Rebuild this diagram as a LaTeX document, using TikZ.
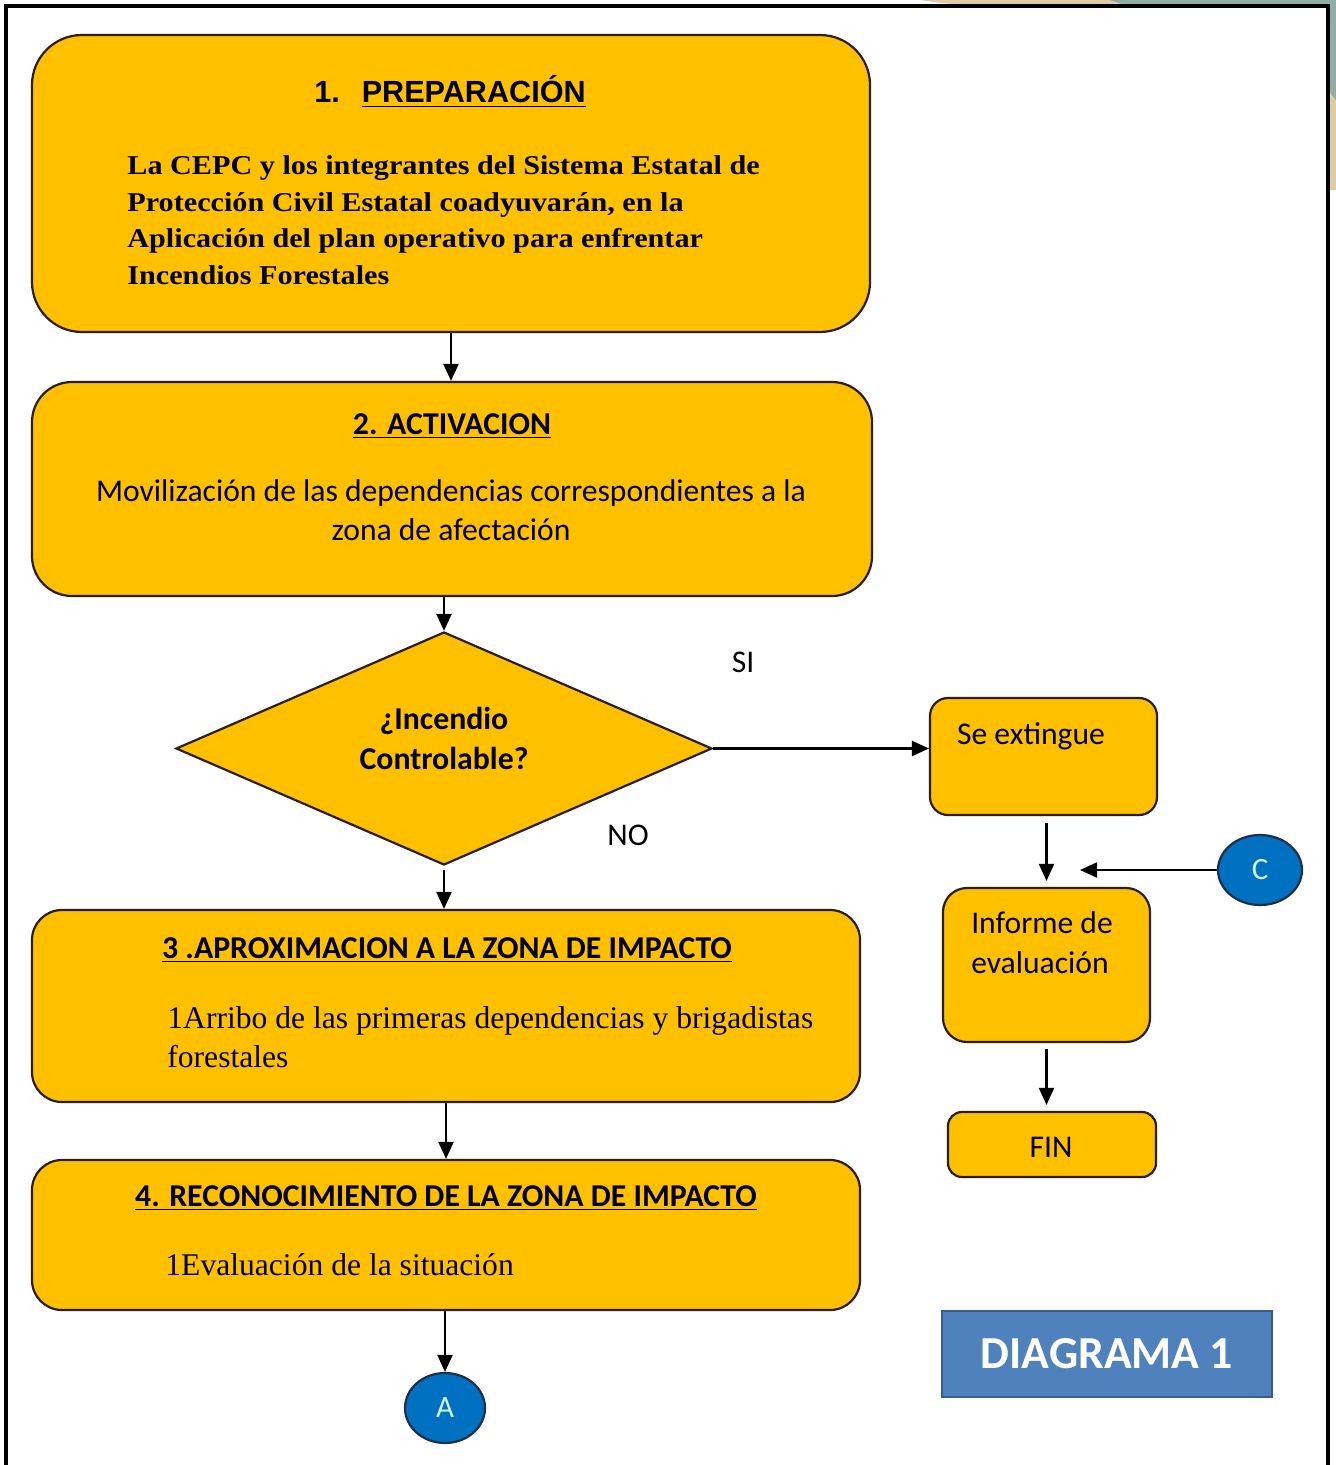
\documentclass[tikz,border=0pt]{standalone}
\usepackage{fontspec}
\setmainfont{Liberation Serif}
\newfontfamily\serifwide[FakeStretch=1.11]{Liberation Serif}
\newfontfamily\calibri{Carlito}
\newfontfamily\arialf{Liberation Sans}
\usetikzlibrary{shapes.geometric,arrows.meta,calc}
\definecolor{gold}{HTML}{FFC000}
\definecolor{edgec}{HTML}{2B1E14}
\definecolor{bluec}{HTML}{0070C0}
\definecolor{circedge}{HTML}{1F2F4A}
\definecolor{lettc}{HTML}{CFF3FF}
\definecolor{blueb}{HTML}{4F81BD}
\definecolor{bluebd}{HTML}{385D8A}
\definecolor{decobeige}{HTML}{E0CBA8}
\definecolor{decoteal}{HTML}{8FADA5}
\tikzset{
  fbox/.style={draw=edgec, line width=1.1pt, fill=gold, inner sep=0pt},
  arr/.style={-{Triangle[width=7.5pt,length=8.5pt]}, line width=1.1pt, draw=black},
  circ/.style={ellipse, draw=circedge, fill=bluec, line width=1.1pt, inner sep=0pt,
    text=lettc, font=\calibri\fontsize{15.5}{17}\selectfont},
  ttl/.style={anchor=base, inner sep=0pt, font=\calibri\bfseries\fontsize{15.9}{18}\selectfont},
  sbody/.style={anchor=base, inner sep=0pt, font=\calibri\fontsize{15.8}{18}\selectfont},
  tbody/.style={anchor=base west, inner sep=0pt, font=\serifwide\bfseries\fontsize{13.6}{16}\selectfont},
  rbody/.style={anchor=base west, inner sep=0pt, font=\fontsize{15.8}{18}\selectfont},
}
\begin{document}
\begin{tikzpicture}[x=0.5pt,y=-0.5pt]
\useasboundingbox (0,0) rectangle (1336,1465);
\fill[white] (0,0) rectangle (1336,1465);
% decoration top right
\fill[decobeige] (920,0) -- (1336,0) -- (1336,190) -- (1328,190) -- (1328,6) -- (1000,6) .. controls (960,6) and (940,3) .. (920,0) -- cycle;
\fill[decoteal] (1110,0) -- (1336,0) -- (1336,100) .. controls (1332,96) and (1330,92) .. (1328,88) -- (1328,6) -- (1130,6) .. controls (1122,4) and (1115,2) .. (1110,0) -- cycle;
% frame
\draw[line width=2.2pt, black] (6,1470) -- (6,6) -- (1328,6) -- (1328,1470);

% boxes
\node[fbox, rounded corners=25pt, minimum width=419pt, minimum height=148.5pt] (b1) at (451,183.5) {};
\node[fbox, rounded corners=20pt, minimum width=420pt, minimum height=107pt] (b2) at (452,489) {};
\node[fbox, diamond, minimum width=268pt, minimum height=116.5pt] (dia) at (444,748.5) {};
\node[fbox, rounded corners=15pt, minimum width=414pt, minimum height=96pt] (b3) at (446,1006) {};
\node[fbox, rounded corners=15pt, minimum width=414pt, minimum height=75pt] (b4) at (446,1235) {};
\node[circ, minimum width=40pt, minimum height=35pt] (A) at (445,1408) {A};
\node[fbox, rounded corners=9pt, minimum width=113.5pt, minimum height=58.5pt] (se) at (1043.5,756.5) {};
\node[fbox, rounded corners=12pt, minimum width=103.5pt, minimum height=77pt] (inf) at (1046.5,965) {};
\node[fbox, rounded corners=7pt, minimum width=104pt, minimum height=32.5pt] (fin) at (1052,1144.5) {};
\node[circ, minimum width=42pt, minimum height=35pt] (C) at (1260,870) {C};
\node[draw=bluebd, line width=1.3pt, fill=blueb, minimum width=165pt, minimum height=43pt, inner sep=0pt,
  text=white, font=\calibri\bfseries\fontsize{22.9}{26}\selectfont] (dg) at (1107,1354) {DIAGRAMA 1};

% texts box 1
\node[anchor=base, inner sep=0pt, font=\arialf\bfseries\fontsize{15.3}{17}\selectfont] (t1) at (450,103) {1.\hspace{11pt}\underline{PREPARACIÓN}};
\node[tbody] (t1a) at (127,175) {La CEPC y los integrantes del Sistema Estatal de};
\node[tbody] (t1b) at (127,212) {Protección Civil Estatal coadyuvarán, en la};
\node[tbody] (t1c) at (127,248) {Aplicación del plan operativo para enfrentar};
\node[tbody] (t1d) at (127,285) {Incendios Forestales};
% box 2
\node[ttl] (t2) at (452,434) {\underline{2. ACTIVACION}};
\node[sbody] (t2a) at (451,501) {Movilización de las dependencias correspondientes a la};
\node[sbody] (t2b) at (451,540) {zona de afectación};
% diamond
\node[ttl] (dq1) at (444,729) {¿Incendio};
\node[ttl] (dq2) at (444,769) {Controlable?};
% box 3
\node[ttl] (t3) at (447,958) {\underline{3 .APROXIMACION A LA ZONA DE IMPACTO}};
\node[rbody] (t3a) at (167,1028) {1Arribo de las primeras dependencias y brigadistas};
\node[rbody] (t3b) at (167,1067) {forestales};
% box 4
\node[ttl] (t4) at (446,1206) {\underline{4. RECONOCIMIENTO DE LA ZONA DE IMPACTO}};
\node[rbody] (t4a) at (165,1275) {1Evaluación de la situación};
% right column texts
\node[sbody] (tse) at (1031,744) {Se extingue};
\node[sbody] (ti1) at (1042,933) {Informe de};
\node[sbody] (ti2) at (1040,973) {evaluación};
\node[sbody] (tfin) at (1051,1157) {FIN};
% labels
\node[sbody] (si) at (743,672) {SI};
\node[sbody] (no) at (628,845) {NO};

% connectors
\coordinate (cend) at (1080,870);
\draw[arr] (b1.south) -- (b1.south |- b2.north);
\draw[arr] (dia.north |- b2.south) -- (dia.north);
\draw[arr, shorten <=2pt] (dia.south) -- (dia.south |- b3.north);
\draw[arr] (b3.south -| b4.north) -- (b4.north);
\draw[arr] (A.north |- b4.south) -- (A.north);
\draw[arr] (dia.east) -- (dia.east -| se.west);
\draw[arr, shorten <=3.5pt, shorten >=3pt] (inf.north |- se.south) -- (inf.north);
\draw[arr] (C.west) -- (cend);
\draw[arr, shorten <=3pt, shorten >=3pt] (inf.south) -- (inf.south |- fin.north);
\end{tikzpicture}
\end{document}
